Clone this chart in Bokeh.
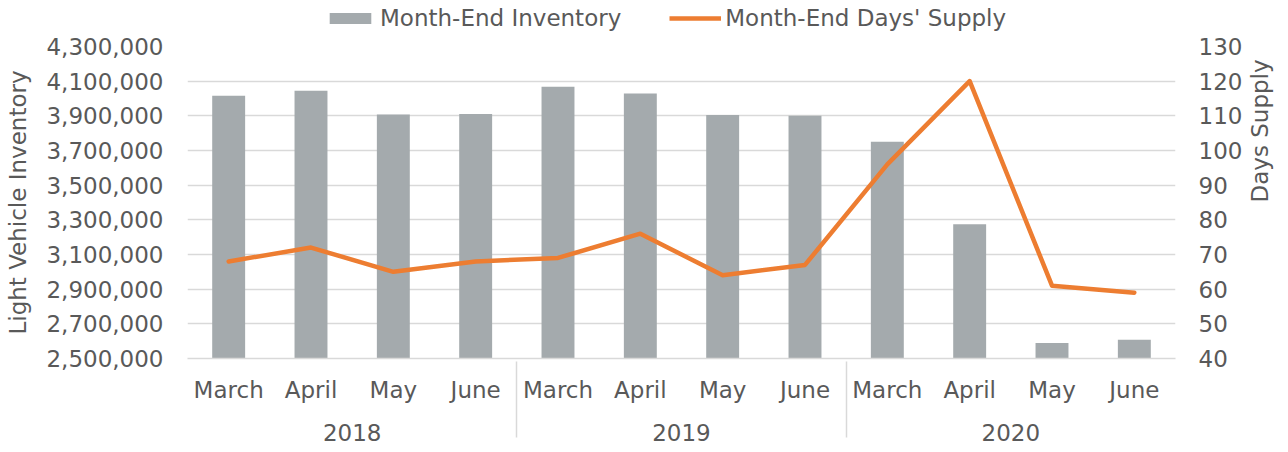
import math
from bokeh.plotting import figure
from bokeh.layouts import column
from bokeh.models import (FactorRange, Range1d, LinearAxis, FixedTicker,
                          NumeralTickFormatter, Legend, LegendItem, ColumnDataSource)
from bokeh.embed import file_html
from bokeh.resources import INLINE

years = ["2018", "2019", "2020"]
months = ["March", "April", "May", "June"]
inventory = [4016000, 4045000, 3908000, 3910000,
             4068000, 4029000, 3905000, 3900000,
             3751000, 3274000, 2590000, 2608000]
days_supply = [68, 72, 65, 68, 69, 76, 64, 67, 96, 120, 61, 59]
inv_ticks = list(range(2500000, 4300001, 200000))
days_ticks = list(range(40, 131, 10))
series_names = ["Month-End Inventory", "Month-End Days' Supply"]
axis_titles = ["Light Vehicle Inventory", "Days Supply"]

factors = [(y, m) for y in years for m in months]
src = ColumnDataSource(dict(x=factors, inv=inventory, days=days_supply))

FONT = "DejaVu Sans"
TXT = "#595959"
FS = "23px"
BAR = "#a4aaad"
ORANGE = "#ed7d31"
FW, FH = 988, 312

# ---------------- main chart ----------------
p = figure(frame_width=FW, frame_height=FH, output_backend="svg", toolbar_location=None,
           x_range=FactorRange(*factors, factor_padding=0, group_padding=0, range_padding=0),
           y_range=Range1d(inv_ticks[0], inv_ticks[-1]),
           min_border_left=187, min_border_right=113, min_border_top=14, min_border_bottom=94)
p.outline_line_color = None
p.extra_y_ranges = {"days": Range1d(days_ticks[0], days_ticks[-1])}

bars = p.vbar(x="x", top="inv", bottom=inv_ticks[0], width=0.4, source=src,
              fill_color=BAR, line_color=None)
line = p.line(x="x", y="days", source=src, y_range_name="days",
              line_color=ORANGE, line_width=4.5, line_join="round", line_cap="round")

p.xgrid.grid_line_color = None
p.ygrid.grid_line_color = "#d9d9d9"
p.ygrid.grid_line_width = 1.5
p.ygrid.ticker = FixedTicker(ticks=inv_ticks)

yl = p.yaxis[0]
yl.ticker = FixedTicker(ticks=inv_ticks)
yl.formatter = NumeralTickFormatter(format="0,0")
yl.axis_line_color = None
yl.major_tick_line_color = None
yl.minor_tick_line_color = None
yl.major_tick_out = 0
yl.minor_tick_out = 0
yl.major_label_standoff = 24
yl.major_label_text_font = FONT
yl.major_label_text_font_size = FS
yl.major_label_text_color = TXT
yl.axis_label = axis_titles[0]
yl.axis_label_text_font = FONT
yl.axis_label_text_font_size = FS
yl.axis_label_text_font_style = "normal"
yl.axis_label_text_color = TXT
yl.axis_label_standoff = 12

yr = LinearAxis(y_range_name="days", ticker=FixedTicker(ticks=days_ticks),
                axis_label=axis_titles[1])
yr.axis_line_color = None
yr.major_tick_line_color = None
yr.minor_tick_line_color = None
yr.major_tick_out = 0
yr.minor_tick_out = 0
yr.major_label_standoff = 23
yr.major_label_text_font = FONT
yr.major_label_text_font_size = FS
yr.major_label_text_color = TXT
yr.axis_label_text_font = FONT
yr.axis_label_text_font_size = FS
yr.axis_label_text_font_style = "normal"
yr.axis_label_text_color = TXT
yr.axis_label_text_align = "center"
yr.axis_label_standoff = 15
yr.axis_label_orientation = math.pi / 2
p.add_layout(yr, "right")

xa = p.xaxis[0]
xa.axis_line_color = "#d9d9d9"
xa.axis_line_width = 1.5
xa.major_tick_line_color = None
xa.minor_tick_line_color = None
xa.major_tick_out = 0
xa.minor_tick_out = 0
xa.major_label_text_font = FONT
xa.major_label_text_font_size = FS
xa.major_label_text_color = TXT
xa.major_label_standoff = 18
xa.group_text_font = FONT
xa.group_text_font_size = FS
xa.group_text_font_style = "normal"
xa.group_text_color = TXT
xa.separator_line_color = "#d9d9d9"
xa.separator_line_width = 1.5

# ---------------- legend strip ----------------
lg = figure(width=p.min_border_left + FW + p.min_border_right, height=32,
            output_backend="svg", toolbar_location=None,
            x_range=FactorRange(*factors), y_range=Range1d(0, 1),
            x_axis_type=None, y_axis_type=None, min_border=0)
lg.outline_line_color = None
lg.grid.grid_line_color = None
lb = lg.vbar(x=factors[:1], top=inventory[:1], bottom=inv_ticks[0], width=0.4,
             fill_color=BAR, line_color=None, visible=False)
ll = lg.line(x=factors[:2], y=days_supply[:2], line_color=ORANGE, line_width=4.5,
             visible=False)
legend = Legend(items=[LegendItem(label=series_names[0], renderers=[lb]),
                       LegendItem(label=series_names[1], renderers=[ll])],
                orientation="horizontal", location=(137, 1),
                glyph_width=52, glyph_height=14, spacing=48, padding=0, margin=0,
                label_standoff=4, inactive_fill_alpha=0,
                label_text_font=FONT, label_text_font_size=FS, label_text_color=TXT,
                border_line_color=None, background_fill_alpha=0)
lg.add_layout(legend, "center")

open("out.html", "w").write(file_html(column(lg, p, spacing=0), INLINE))
